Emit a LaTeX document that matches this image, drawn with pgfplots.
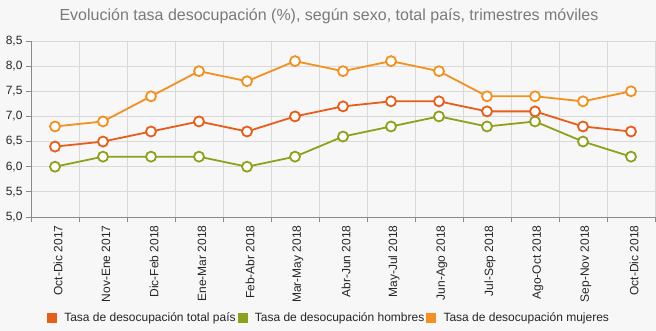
\documentclass[border=0pt]{standalone}
\usepackage{pgfplots}
\pgfplotsset{compat=1.18}
\usepackage{fontspec}
\setmainfont{Liberation Sans}
\definecolor{ctot}{HTML}{E85D1A}
\definecolor{chom}{HTML}{8FA11C}
\definecolor{cmuj}{HTML}{F3901F}
\definecolor{bg}{HTML}{F7F7F7}
\definecolor{gridc}{HTML}{D9D9D9}
\definecolor{axc}{HTML}{8A8A8A}
\definecolor{titc}{HTML}{7A7A7A}
\begin{document}
\begin{tikzpicture}[x=1pt,y=1pt]
\useasboundingbox (0,0) rectangle (656,331);
\fill[bg] (0,0) rectangle (656,331);
\node[font=\fontsize{16}{18}\selectfont, text=titc] at (329,315) {Evolución tasa desocupación (\%), según sexo, total país, trimestres móviles};
\begin{axis}[
  at={(31pt,114pt)}, anchor=south west,
  scale only axis, width=624pt, height=176pt,
  xmin=-0.5, xmax=12.5, ymin=5, ymax=8.5,
  axis x line*=bottom, axis y line*=left,
  axis line style={axc, line width=0.8pt, -},
  xtick={0,...,12},
  xticklabels={Oct-Dic 2017,Nov-Ene 2017,Dic-Feb 2018,Ene-Mar 2018,Feb-Abr 2018,Mar-May 2018,Abr-Jun 2018,May-Jul 2018,Jun-Ago 2018,Jul-Sep 2018,Ago-Oct 2018,Sep-Nov 2018,Oct-Dic 2018},
  x tick label style={rotate=90, anchor=east, font=\fontsize{12}{14}\selectfont, text=black!85, yshift=-3pt},
  major x tick style={draw=none},
  minor xtick={-0.5,0.5,...,12.5},
  minor x grid style={gridc, line width=0.8pt},
  xminorgrids,
  minor tick length=5pt,
  tick align=outside,
  major tick length=5pt,
  minor x tick style={axc, line width=0.8pt},
  ytick={5,5.5,...,8.5},
  ymajorgrids,
  major y grid style={gridc, line width=0.8pt},
  y tick style={axc, line width=0.8pt},
  y tick label style={font=\fontsize{12}{14}\selectfont, text=black!85},
  /pgf/number format/.cd, fixed, fixed zerofill, precision=1, use comma, assume math mode=true,
  /pgfplots/.cd,
  legend style={at={(0.4776,-0.574)}, anchor=center, draw=none, fill=none, font=\fontsize{12}{14}\selectfont, text=black!85, /tikz/every even column/.append style={column sep=0pt}, /tikz/every odd column/.append style={column sep=4pt}},
  legend columns=3,
  clip=false,
]
\addplot[chom, line width=1.8pt, mark=*, mark size=5pt, mark options={fill=white, line width=1.8pt}, forget plot] coordinates {(0,6.0) (1,6.2) (2,6.2) (3,6.2) (4,6.0) (5,6.2) (6,6.6) (7,6.8) (8,7.0) (9,6.8) (10,6.9) (11,6.5) (12,6.2)};
\addplot[ctot, line width=1.8pt, mark=*, mark size=5pt, mark options={fill=white, line width=1.8pt}, forget plot] coordinates {(0,6.4) (1,6.5) (2,6.7) (3,6.9) (4,6.7) (5,7.0) (6,7.2) (7,7.3) (8,7.3) (9,7.1) (10,7.1) (11,6.8) (12,6.7)};
\addplot[cmuj, line width=1.8pt, mark=*, mark size=5pt, mark options={fill=white, line width=1.8pt}, forget plot] coordinates {(0,6.8) (1,6.9) (2,7.4) (3,7.9) (4,7.7) (5,8.1) (6,7.9) (7,8.1) (8,7.9) (9,7.4) (10,7.4) (11,7.3) (12,7.5)};
\addlegendimage{legend image code/.code={\fill[ctot] (0pt,-4.5pt) rectangle (9pt,4.5pt); \path[draw=none,fill=none] (0pt,0pt) rectangle (11pt,0.1pt);}}
\addlegendentry{Tasa de desocupación total país}
\addlegendimage{legend image code/.code={\fill[chom] (0pt,-4.5pt) rectangle (9pt,4.5pt); \path[draw=none,fill=none] (0pt,0pt) rectangle (11pt,0.1pt);}}
\addlegendentry{Tasa de desocupación hombres}
\addlegendimage{legend image code/.code={\fill[cmuj] (0pt,-4.5pt) rectangle (9pt,4.5pt); \path[draw=none,fill=none] (0pt,0pt) rectangle (11pt,0.1pt);}}
\addlegendentry{Tasa de desocupación mujeres}
\end{axis}
\end{tikzpicture}
\end{document}
